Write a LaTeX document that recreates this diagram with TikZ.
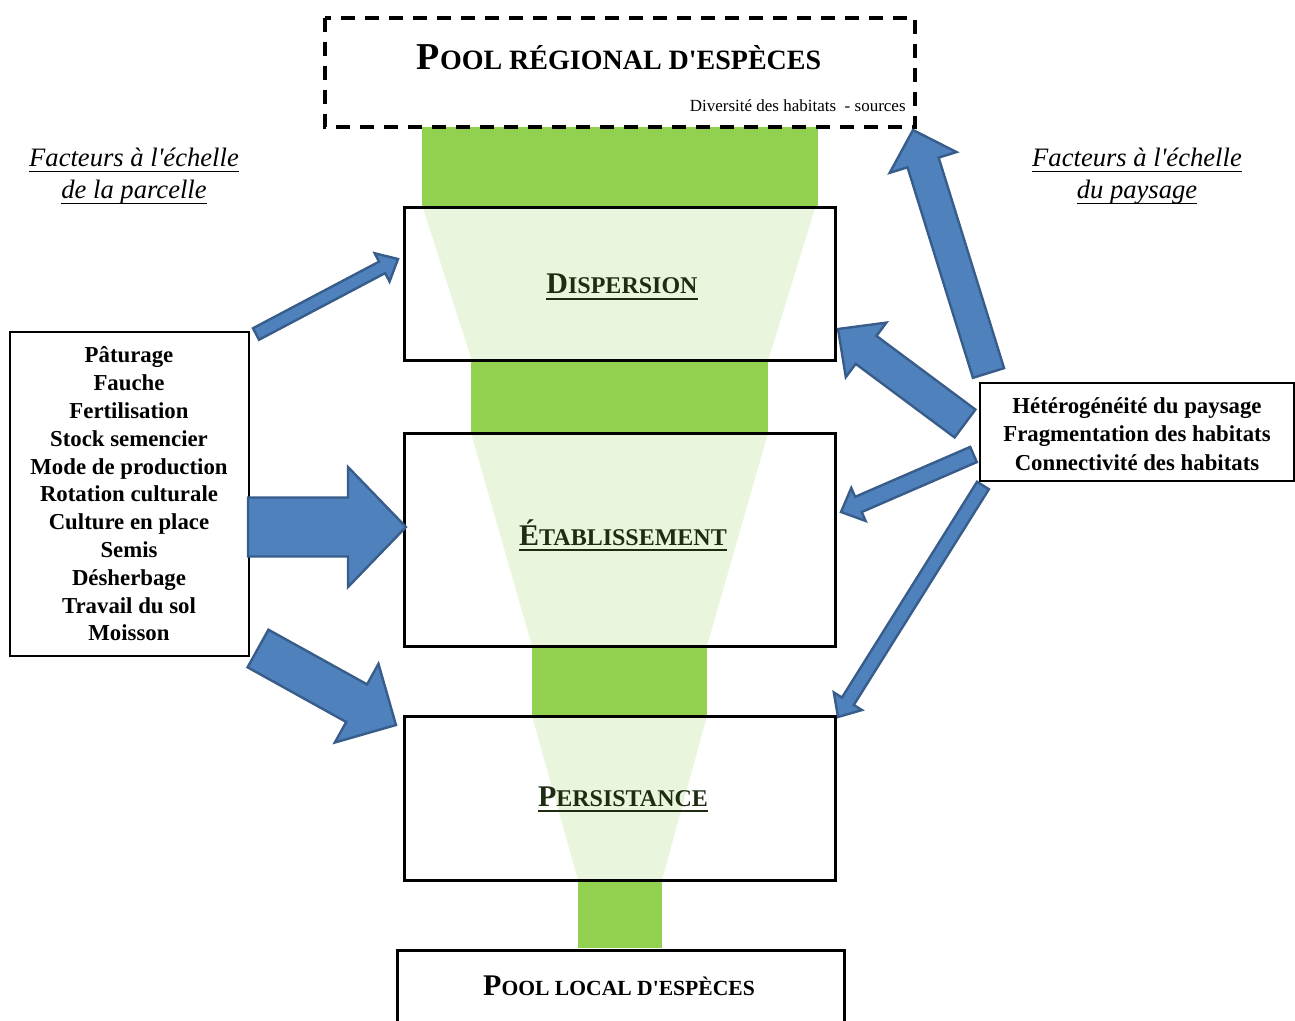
\documentclass[tikz,border=0pt]{standalone}
\usepackage{fontspec}
\setmainfont{Liberation Serif}
\usetikzlibrary{calc}
\definecolor{fgreen}{HTML}{92D050}
\definecolor{lgreen}{HTML}{E9F5DC}
\definecolor{afill}{HTML}{4F81BD}
\definecolor{aline}{HTML}{385D8A}
\definecolor{tgreen}{HTML}{1E2D12}
\newsavebox\ulbox
\newcommand\myul[3]{\sbox\ulbox{#3}\rlap{\rule[-#1]{\wd\ulbox}{#2}}\usebox\ulbox}
\newcommand\fs[1]{\fontsize{#1}{#1}\selectfont}
\newcommand\sq{\textquotesingle}
% block arrow: name, tail, tip, half shaft, half head, head length
\newcommand\barrow[6]{%
  \coordinate (#1t) at #2; \coordinate (#1p) at #3;
  \coordinate (#1b) at ($(#1p)!#6!(#1t)$);
  \draw[blockarrow] ($(#1t)!#4!90:(#1p)$) -- ($(#1b)!#4!90:(#1p)$) -- ($(#1b)!#5!90:(#1p)$)
    -- (#1p) -- ($(#1b)!#5!-90:(#1p)$) -- ($(#1b)!#4!-90:(#1p)$) -- ($(#1t)!#4!-90:(#1p)$) -- cycle;}
\tikzset{
  blockarrow/.style={fill=afill, draw=aline, line width=1.2pt, line join=miter},
  stagebox/.style={draw=black, line width=1.5pt},
  factbox/.style={draw=black, line width=0.7pt},
  stagetitle/.style={anchor=base, text=tgreen, inner sep=0pt, font=\bfseries},
  factlist/.style={align=center, inner sep=0pt},
  heading/.style={anchor=base, inner sep=0pt, font=\itshape\fs{13.3pt}},
}
\begin{document}
\begin{tikzpicture}[x=0.5pt,y=-0.5pt]
\useasboundingbox (0,0) rectangle (1295,1021);
% funnel
\fill[fgreen] (422,127) rectangle (818,208);
\fill[fgreen] (471,361) rectangle (768,433);
\fill[fgreen] (532,646) rectangle (707,716);
\fill[fgreen] (578,880) rectangle (662,948);
\fill[lgreen] (423,208) -- (815,208) -- (768,361) -- (472,361) -- cycle;
\fill[lgreen] (471,433) -- (768,433) -- (707,646) -- (532,646) -- cycle;
\fill[lgreen] (532,716) -- (707,716) -- (662,880) -- (578,880) -- cycle;
% regional pool
\draw[line width=2pt, dash pattern=on 7pt off 5pt] (325,18) rectangle (915,127);
\node[anchor=base, inner sep=0pt, font=\bfseries] (regional) at (619,70)
  {\fs{19pt}P\fs{14pt}OOL RÉGIONAL D\sq ESPÈCES};
\node[anchor=base east, inner sep=0pt, font=\fs{8.5pt}] (sources) at (906,112)
  {Diversité des habitats ~- sources};
% stage boxes
\draw[stagebox] (404,208) rectangle (835,361);
\draw[stagebox] (404,433) rectangle (835,646);
\draw[stagebox] (404,716) rectangle (835,880);
\draw[stagebox] (397,1030) |- (844,950) -- (844,1030);
\node[stagetitle] (disp) at (622,294) {\myul{3pt}{1.2pt}{\fs{15pt}D\fs{12pt}ISPERSION}};
\node[stagetitle] (etab) at (623,545) {\myul{3pt}{1.2pt}{\fs{15pt}É\fs{12pt}TABLISSEMENT}};
\node[stagetitle] (pers) at (623,806) {\myul{3pt}{1.2pt}{\fs{15pt}P\fs{12pt}ERSISTANCE}};
\node[anchor=base, inner sep=0pt, font=\bfseries] (local) at (619,995)
  {\fs{15pt}P\fs{10.8pt}OOL LOCAL D\sq ESPÈCES};
% headings
\node[heading] (hl1) at (134,167) {\myul{2.5pt}{0.6pt}{Facteurs à l\sq échelle}};
\node[heading] (hl2) at (134,199) {\myul{2.5pt}{0.6pt}{de la parcelle}};
\node[heading] (hr1) at (1137,167) {\myul{2.5pt}{0.6pt}{Facteurs à l\sq échelle}};
\node[heading] (hr2) at (1137,199) {\myul{2.5pt}{0.6pt}{du paysage}};
% factor boxes
\draw[factbox] (10,332) rectangle (249,656);
\node[factlist, font=\bfseries\fontsize{11.4pt}{13.9pt}\selectfont] (parcelle) at (129,494)
  {Pâturage\\Fauche\\Fertilisation\\Stock semencier\\Mode de production\\Rotation culturale\\Culture en place\\Semis\\Désherbage\\Travail du sol\\Moisson};
\draw[factbox] (980,383) rectangle (1294,481);
\node[factlist, font=\bfseries\fontsize{11.4pt}{14.25pt}\selectfont] (paysage) at (1137,434)
  {Hétérogénéité du paysage\\Fragmentation des habitats\\Connectivité des habitats};
% arrows
\barrow{a}{(256,334)}{(398,259)}{3.25pt}{8pt}{9pt}
\barrow{b}{(248,527)}{(406,527)}{14.75pt}{30pt}{29pt}
\barrow{c}{(258,648.5)}{(396,725)}{10.75pt}{22.5pt}{22.5pt}
\barrow{d}{(988.5,373)}{(913,130)}{8.15pt}{17.5pt}{17pt}
\barrow{e}{(965,423.5)}{(838,329)}{8.7pt}{17pt}{17.5pt}
\barrow{f}{(973.5,454.5)}{(841,512)}{4.15pt}{9pt}{9.5pt}
\barrow{g}{(983,485.5)}{(838,717)}{3.5pt}{8.3pt}{9.3pt}
\end{tikzpicture}
\end{document}
